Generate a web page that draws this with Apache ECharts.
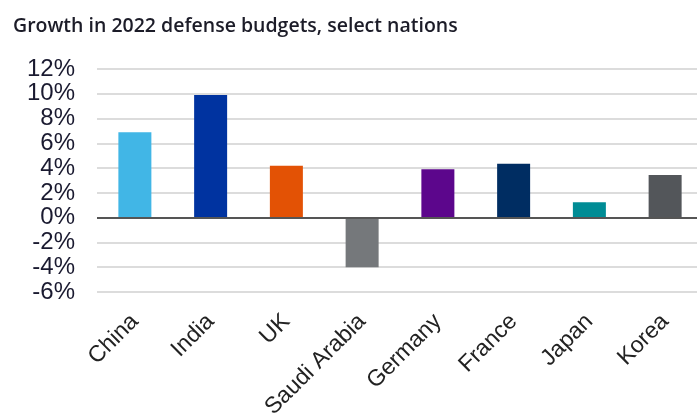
<!DOCTYPE html>
<html><head><meta charset="utf-8">
<script src="https://cdn.jsdelivr.net/npm/echarts@6/dist/echarts.min.js"></script>
<style>html,body{margin:0;padding:0;background:#fff}#c{width:697px;height:418px}</style>
</head><body><div id="c"></div>
<script>
const categories = ["China", "India", "UK", "Saudi Arabia", "Germany", "France", "Japan", "Korea"];
const growth = [6.9, 9.9, 4.2, -4.0, 3.9, 4.35, 1.25, 3.45];
const barColors = ["#41B6E6", "#0033A0", "#E35205", "#75787B", "#5C068C", "#002D62", "#008C95", "#53565A"];
const yTicks = [-6, -4, -2, 0, 2, 4, 6, 8, 10, 12];

const chart = echarts.init(document.getElementById('c'));
chart.setOption({
  animation: false,
  title: {
    text: "Growth in 2022 defense budgets, select nations",
    left: 8, top: 11,
    textStyle: { fontFamily: "Open Sans", fontWeight: 600, fontSize: 19.5, color: "#1c1c28" }
  },
  grid: { left: 97, top: 69, width: 606, height: 223, containLabel: false, outerBoundsMode: 'none' },
  xAxis: {
    type: 'category', data: categories,
    axisLine: { show: false }, axisTick: { show: false },
    axisLabel: { rotate: 45, margin: 26, interval: 0, fontFamily: "Liberation Sans", fontSize: 23, color: "#222" }
  },
  yAxis: {
    type: 'value', min: yTicks[0], max: yTicks[yTicks.length - 1], interval: 2,
    axisLine: { show: false }, axisTick: { show: false },
    axisLabel: { margin: 22, fontFamily: "Liberation Sans", fontSize: 24, color: "#1a1a30", formatter: v => v + '%' },
    splitLine: { lineStyle: { color: "#dcdcdc", width: 2 } }
  },
  series: [{
    type: 'bar', barWidth: 33,
    data: growth.map((v, i) => ({ value: v, itemStyle: { color: barColors[i] } })),
    markLine: {
      silent: true, symbol: 'none', label: { show: false },
      lineStyle: { color: "#555", width: 2, type: 'solid' },
      data: [{ yAxis: 0 }]
    }
  }]
});
</script></body></html>
